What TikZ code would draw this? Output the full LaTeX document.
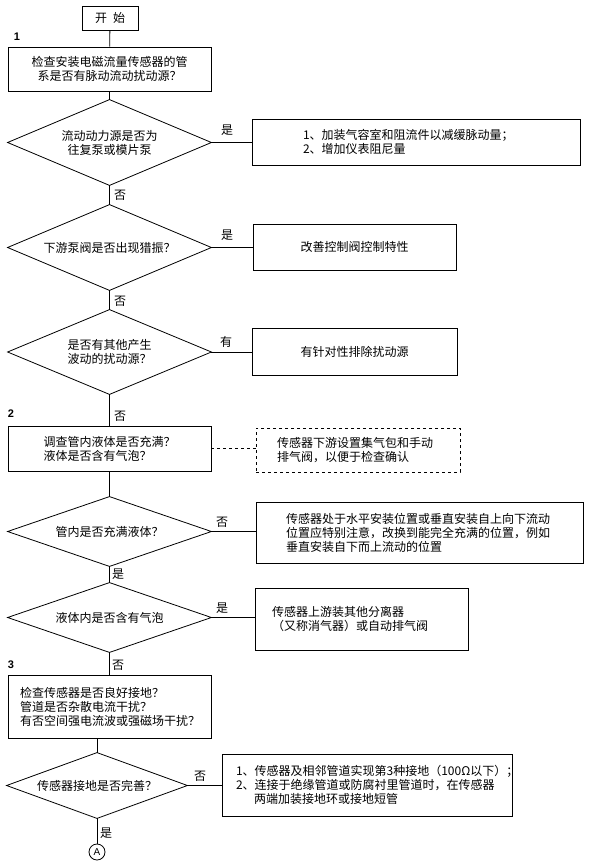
\documentclass[tikz,border=0pt]{standalone}
\usepackage{fontspec}
\setmainfont{Noto Sans CJK SC}
\newfontfamily\labfont{Liberation Sans}
\begin{document}
\begin{tikzpicture}[x=1pt,y=-1pt,
  font=\fontsize{12}{14}\selectfont,
  line width=0.8pt,
  box/.style={draw, rectangle, inner sep=0pt, align=center},
  lbox/.style={draw, rectangle, inner ysep=0pt, align=left},
  dia/.style={rectangle, inner sep=0pt, align=center},
  diaedge/.style={draw},
  lbl/.style={inner sep=0pt},
  num/.style={inner sep=0pt, font=\labfont\bfseries\fontsize{11}{12}\selectfont},
  conn/.style={draw},
  dconn/.style={draw, dashed}]
\fill[white] (0,0) rectangle (589,867);
\useasboundingbox (0,0) rectangle (589,867);

% main column
\node[box, minimum width=56pt, minimum height=24pt] (start) at (110,18) {开\hspace{0.5em}始};
\node[num] (n1) at (17,37) {1};
\node[box, minimum width=203pt, minimum height=44pt] (b1) at (109.5,69) {检查安装电磁流量传感器的管\\系是否有脉动流动扰动源？};
\node[dia, minimum width=203pt, minimum height=85pt] (d1) at (109.5,142.5) {流动动力源是否为\\往复泵或模片泵};
\node[dia, minimum width=203pt, minimum height=85pt] (d2) at (109.5,247.5) {下游泵阀是否出现猎振？};
\node[dia, minimum width=203pt, minimum height=84pt] (d3) at (109.5,352) {是否有其他产生\\波动的扰动源？};
\node[num] (n2) at (11,414) {2};
\node[box, minimum width=203pt, minimum height=45pt, align=left] (b2) at (109.5,448.5) {调查管内液体是否充满？\\液体是否含有气泡？};
\node[dia, minimum width=203pt, minimum height=69pt] (d4) at (109.5,531.5) {管内是否充满液体？};
\node[dia, minimum width=203pt, minimum height=69pt] (d5) at (109.5,617.5) {液体内是否含有气泡};
\node[num] (n3) at (11,665) {3};
\node[lbox, minimum height=63pt, inner xsep=12pt, text width=179pt] (b3) at (109.5,706.5) {检查传感器是否良好接地？\\管道是否杂散电流干扰？\\有否空间强电流波或强磁场干扰？};
\node[dia, minimum width=180pt, minimum height=65pt] (d6) at (97,785.5) {传感器接地是否完善？};
\node[draw, circle, minimum size=16pt, inner sep=0pt, font=\labfont\fontsize{10}{10}\selectfont] (A) at (97,852) {A};

% diamond outlines
\foreach \d in {d1,d2,d3,d4,d5,d6}
  \path[diaedge] (\d.north) -- (\d.east) -- (\d.south) -- (\d.west) -- cycle;

% right column
\node[lbox, minimum height=46pt, inner xsep=51pt, text width=226pt] (r1) at (416,142) {1、加装气容室和阻流件以减缓脉动量；\\2、增加仪表阻尼量};
\node[box, minimum width=203pt, minimum height=46pt] (r2) at (354.5,247) {改善控制阀控制特性};
\node[box, minimum width=205pt, minimum height=47pt] (r3) at (354.5,351.5) {有针对性排除扰动源};
\node[lbox, dashed, minimum height=44pt, inner xsep=21pt, text width=162pt] (r0) at (358,450) {传感器下游设置集气包和手动\\排气阀，以便于检查确认};
\node[lbox, minimum height=61pt, inner xsep=30pt, text width=267pt] (r4) at (419.5,532.5) {传感器处于水平安装位置或垂直安装自上向下流动\\位置应特别注意，改换到能完全充满的位置，例如\\垂直安装自下而上流动的位置};
\node[lbox, minimum height=62pt, inner xsep=17pt, text width=179pt] (r5) at (361.5,619) {传感器上游装其他分离器\\（又称消气器）或自动排气阀};
\node[lbox, minimum height=62pt, inner xsep=14pt, text width=262pt] (r6) at (367,785) {1、传感器及相邻管道实现第3种接地（100Ω以下）；\\2、连接于绝缘管道或防腐衬里管道时，在传感器\\\hspace*{1.5em}两端加装接地环或接地短管};

% vertical connectors
\path[conn] (start) -- (b1);
\path[conn] (b1) -- (d1.north);
\path[conn] (d1.south) -- (d2.north);
\path[conn] (d2.south) -- (d3.north);
\path[conn] (d3.south) -- (b2.north);
\path[conn] (b2.south) -- (d4.north);
\path[conn] (d4.south) -- (d5.north);
\path[conn] (d5.south) -- (b3.north);
\path[conn] (d6.north |- b3.south) -- (d6.north);
\path[conn] (d6.south) -- (A.north);

% horizontal connectors
\path[conn] (d1.east) -- (d1.east -| r1.west);
\path[conn] (d2.east) -- (d2.east -| r2.west);
\path[conn] (d3.east) -- (d3.east -| r3.west);
\path[dconn] (b2.east) -- (b2.east -| r0.west);
\path[conn] (d4.east) -- (d4.east -| r4.west);
\path[conn] (d5.east) -- (d5.east -| r5.west);
\path[conn] (d6.east) -- (d6.east -| r6.west);

% branch labels
\node[lbl] (l1) at (227,130) {是};
\node[lbl] (l2) at (120,195) {否};
\node[lbl] (l3) at (227,235) {是};
\node[lbl] (l4) at (120,301) {否};
\node[lbl] (l5) at (226,342) {有};
\node[lbl] (l6) at (120,416) {否};
\node[lbl] (l7) at (222,522) {否};
\node[lbl] (l8) at (118,574) {是};
\node[lbl] (l9) at (222,608) {是};
\node[lbl] (l10) at (118,665) {否};
\node[lbl] (l11) at (200,776) {否};
\node[lbl] (l12) at (106,833) {是};
\end{tikzpicture}
\end{document}
